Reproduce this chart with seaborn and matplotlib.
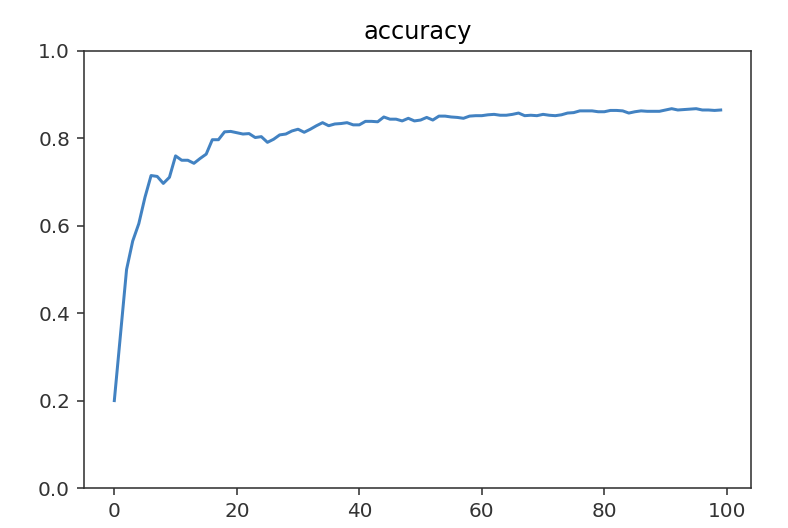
import matplotlib
matplotlib.use("Agg")
import matplotlib.pyplot as plt
import seaborn as sns
import pandas as pd

epochs = list(range(100))
accuracy = [
    0.200, 0.350, 0.500, 0.565, 0.605, 0.665, 0.715, 0.713, 0.697, 0.711,
    0.760, 0.750, 0.750, 0.743, 0.754, 0.764, 0.797, 0.797, 0.815, 0.816,
    0.813, 0.810, 0.811, 0.802, 0.804, 0.791, 0.798, 0.808, 0.810, 0.817,
    0.821, 0.814, 0.821, 0.829, 0.836, 0.829, 0.833, 0.834, 0.836, 0.831,
    0.831, 0.839, 0.839, 0.838, 0.849, 0.844, 0.844, 0.840, 0.846, 0.840,
    0.842, 0.848, 0.842, 0.851, 0.851, 0.849, 0.848, 0.846, 0.851, 0.852,
    0.852, 0.854, 0.855, 0.853, 0.853, 0.855, 0.858, 0.852, 0.853, 0.852,
    0.855, 0.853, 0.852, 0.854, 0.858, 0.859, 0.863, 0.863, 0.863, 0.861,
    0.861, 0.864, 0.864, 0.863, 0.858, 0.861, 0.863, 0.862, 0.862, 0.862,
    0.865, 0.868, 0.865, 0.866, 0.867, 0.868, 0.865, 0.865, 0.864, 0.865,
]
title = "accuracy"

df = pd.DataFrame({"epoch": epochs, "accuracy": accuracy})

dpi = 143.7
fig = plt.figure(figsize=(788 / dpi, 528 / dpi), dpi=dpi)
ax = fig.add_axes([84 / 788, 1 - 488 / 528, (751 - 84) / 788, (488 - 51) / 528])
sns.lineplot(data=df, x="epoch", y="accuracy", ax=ax, color="#4282c2", linewidth=1.5)
ax.set_ylim(0, 1.0)
ax.set_yticks([0.0, 0.2, 0.4, 0.6, 0.8, 1.0])
ax.set_xticks([0, 20, 40, 60, 80, 100])
ax.set_xlabel("")
ax.set_ylabel("")
ax.set_title(title, fontsize=12)
for s in ax.spines.values():
    s.set_color("#333333")
ax.tick_params(colors="#333333", labelsize=10)
fig.savefig("out.png", dpi=dpi)
